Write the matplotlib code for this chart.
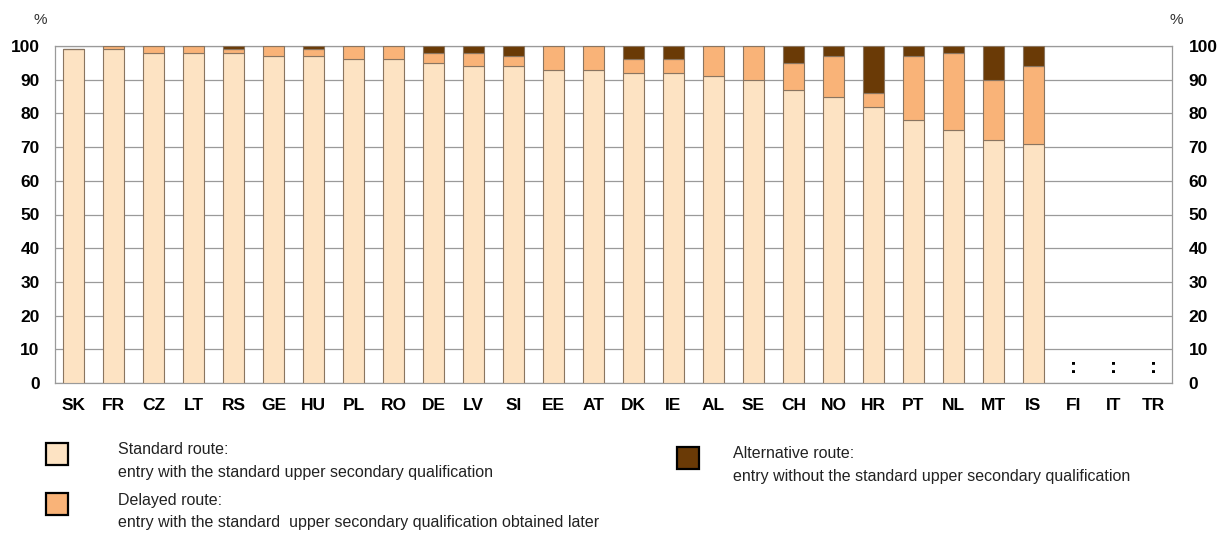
import matplotlib
matplotlib.use("Agg")
import matplotlib.pyplot as plt
from matplotlib.patches import Rectangle
import numpy as np

# ── Data ──────────────────────────────────────────────────────────────────────
countries = ["SK", "FR", "CZ", "LT", "RS", "GE", "HU", "PL", "RO", "DE",
             "LV", "SI", "EE", "AT", "DK", "IE", "AL", "SE", "CH", "NO",
             "HR", "PT", "NL", "MT", "IS", "FI", "IT", "TR"]
standard = [99, 99, 98, 98, 98, 97, 97, 96, 96, 95,
            94, 94, 93, 93, 92, 92, 91, 90, 87, 85,
            82, 78, 75, 72, 71, None, None, None]
delayed = [0, 1, 2, 2, 1, 3, 2, 4, 4, 3,
           4, 3, 7, 7, 4, 4, 9, 10, 8, 12,
           4, 19, 23, 18, 23, None, None, None]
alternative = [0, 0, 0, 0, 1, 0, 1, 0, 0, 2,
               2, 3, 0, 0, 4, 4, 0, 0, 5, 3,
               14, 3, 2, 10, 6, None, None, None]
yticks = [0, 10, 20, 30, 40, 50, 60, 70, 80, 90, 100]

# ── Style ─────────────────────────────────────────────────────────────────────
STD_COLOR = "#FDE3C3"
DEL_COLOR = "#F9B378"
ALT_COLOR = "#6A3A06"
EDGE = "#8a7560"
GRID = "#9a9a9a"
FONT = ["Liberation Sans Narrow", "Liberation Sans", "DejaVu Sans"]
plt.rcParams["font.family"] = FONT

fig = plt.figure(figsize=(12.18, 5.39), dpi=100)
ax = fig.add_axes([55 / 1218, 1 - 383 / 539, 1117 / 1218, 337 / 539])

x = np.arange(len(countries))
valid = [i for i in x if standard[i] is not None]
s = np.array([standard[i] for i in valid], float)
d = np.array([delayed[i] for i in valid], float)
a = np.array([alternative[i] for i in valid], float)
xv = x[valid]

w = 0.52
ax.bar(xv, s, width=w, color=STD_COLOR, edgecolor=EDGE, linewidth=0.8, zorder=3)
ax.bar(xv, d, bottom=s, width=w, color=DEL_COLOR, edgecolor=EDGE, linewidth=0.8, zorder=3)
ax.bar(xv, a, bottom=s + d, width=w, color=ALT_COLOR, edgecolor=EDGE, linewidth=0.8, zorder=3)

# missing data markers
for i in x:
    if standard[i] is None:
        ax.text(i, 4.5, ":", ha="center", va="center", fontsize=15,
                fontweight="bold", color="black")

ax.set_xlim(-0.47, len(countries) - 0.53)
ax.set_ylim(0, 100)
ax.set_yticks(yticks)
ax.yaxis.grid(True, color=GRID, linewidth=0.9, zorder=0)
ax.tick_params(axis="both", length=0, labelsize=12.5)
ax.tick_params(axis="y", pad=11)
ax.tick_params(axis="x", pad=11)
ax.set_xticks(x)
ax.set_xticklabels(countries, fontweight="bold")
for lab in ax.get_yticklabels():
    lab.set_fontweight("bold")
for sp in ax.spines.values():
    sp.set_color(GRID)
    sp.set_linewidth(0.9)

ax2 = ax.twinx()
ax2.set_ylim(0, 100)
ax2.set_yticks(yticks)
ax2.tick_params(axis="y", length=0, labelsize=12.5, pad=12)
for lab in ax2.get_yticklabels():
    lab.set_fontweight("bold")
for sp in ax2.spines.values():
    sp.set_visible(False)

fig.text(40 / 1218, 1 - 20 / 539, "%", fontsize=11, color="#333333", ha="center", va="center")
fig.text(1176 / 1218, 1 - 20 / 539, "%", fontsize=11, color="#333333", ha="center", va="center")

# ── Legend ────────────────────────────────────────────────────────────────────
legend_items = [
    (46, 443, STD_COLOR, "Standard route:",
     "entry with the standard upper secondary qualification", 118),
    (46, 493, DEL_COLOR, "Delayed route:",
     "entry with the standard  upper secondary qualification obtained later", 118),
    (677, 447, ALT_COLOR, "Alternative route:",
     "entry without the standard upper secondary qualification", 733),
]
for bx, by, col, line1, line2, tx in legend_items:
    fig.patches.append(Rectangle((bx / 1218, 1 - (by + 22) / 539), 22 / 1218, 22 / 539,
                                 transform=fig.transFigure, facecolor=col,
                                 edgecolor="black", linewidth=1.6))
    fig.text(tx / 1218, 1 - (by + 7) / 539, line1, fontsize=11.5, va="center", color="#222222")
    fig.text(tx / 1218, 1 - (by + 29) / 539, line2, fontsize=11.5, va="center", color="#222222")

fig.savefig("out.png", dpi=100, facecolor="white")
